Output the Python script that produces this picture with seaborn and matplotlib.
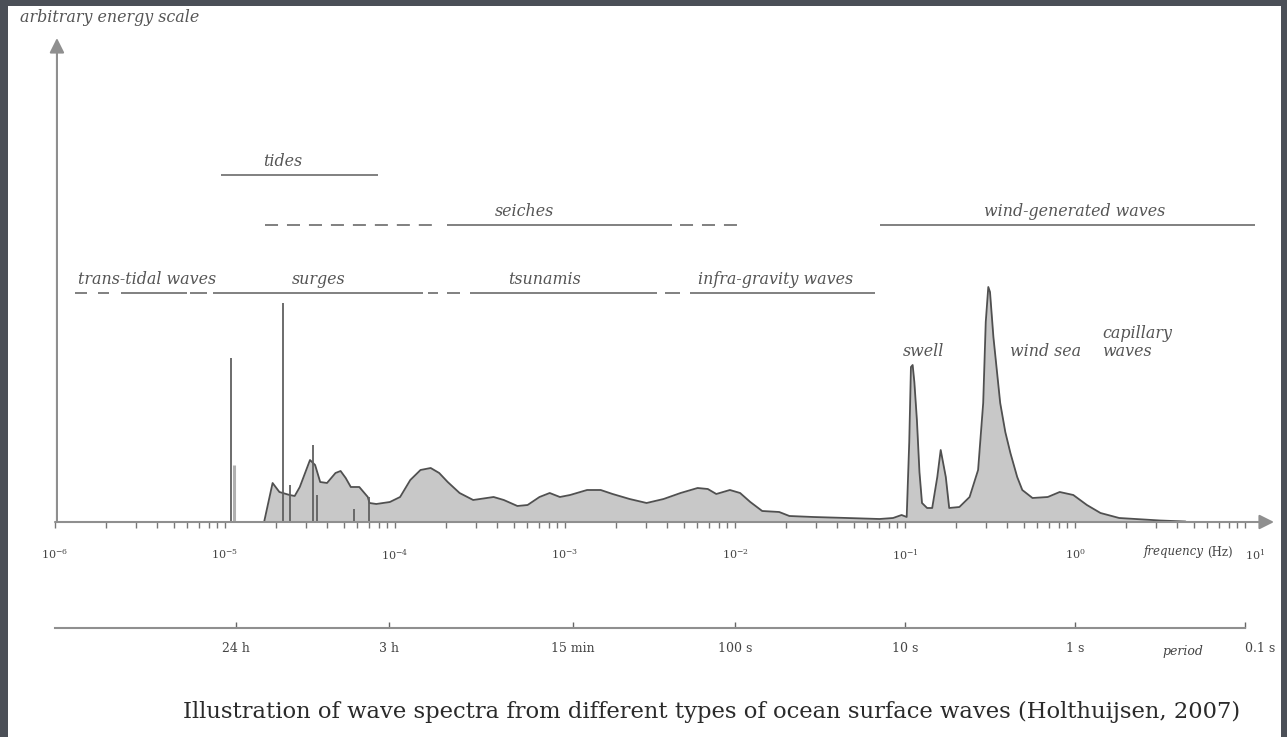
import numpy as np
import pandas as pd
import matplotlib
matplotlib.use("Agg")
import matplotlib.pyplot as plt
import seaborn as sns
from matplotlib.patches import Rectangle
from matplotlib.ticker import LogLocator, NullFormatter

# ---------------- data ----------------
# spectrum outline: log10(frequency in Hz) and arbitrary energy
spec_logf = [-4.77, -4.72, -4.68, -4.62, -4.59, -4.56, -4.50, -4.47, -4.44, -4.40,
             -4.35, -4.32, -4.29, -4.26, -4.21, -4.16, -4.15, -4.11, -4.03, -3.97,
             -3.91, -3.85, -3.79, -3.74, -3.69, -3.62, -3.54, -3.42, -3.36, -3.28,
             -3.22, -3.15, -3.09, -3.03, -2.97, -2.87, -2.79, -2.72, -2.62, -2.52,
             -2.42, -2.32, -2.22, -2.16, -2.11, -2.03, -1.97, -1.91, -1.84, -1.74,
             -1.68, -1.54, -1.34, -1.15, -1.07, -1.02, -0.99, -0.975, -0.965, -0.955,
             -0.945, -0.93, -0.915, -0.90, -0.87, -0.84, -0.81, -0.79, -0.76, -0.74,
             -0.68, -0.62, -0.57, -0.54, -0.525, -0.51, -0.50, -0.48, -0.44, -0.41,
             -0.38, -0.34, -0.31, -0.25, -0.16, -0.09, -0.01, 0.07, 0.15, 0.26,
             0.50, 0.65]
spec_energy = [0, 39, 30, 27, 26, 35, 62, 57, 40, 39,
               49, 51, 44, 35, 35, 25, 19, 18, 20, 25,
               42, 52, 54, 49, 40, 29, 22, 25, 22, 16,
               17, 25, 29, 25, 27, 32, 32, 28, 23, 19,
               23, 29, 34, 33, 28, 32, 29, 20, 11, 10,
               6, 5, 4, 3, 4, 7, 5, 80, 155, 157,
               140, 102, 50, 19, 14, 14, 45, 72, 45, 14,
               15, 25, 52, 119, 200, 235, 230, 185, 119, 90,
               69, 45, 32, 24, 25, 30, 27, 17, 9, 4,
               1.5, 0.5]

# tidal / surge line components
tide_line_logf = [-4.965, -4.66, -4.62, -4.48, -4.46, -4.24, -4.15]
tide_line_energy = [164, 219, 37, 77, 27, 13, 25]
tide_shadow_logf = [-4.947]
tide_shadow_energy = [57]

# frequency axis decades and period axis
freq_tick_exp = [-6, -5, -4, -3, -2, -1, 0, 1]
period_seconds = [86400, 10800, 900, 100, 10, 1, 0.1]
period_labels = ["24 h", "3 h", "15 min", "100 s", "10 s", "1 s", "0.1 s"]

# wave-type bands
band_names = ["trans-tidal waves", "surges", "tsunamis", "infra-gravity waves",
              "seiches", "wind-generated waves", "tides"]
band_row = [0, 0, 0, 0, 1, 1, 2]
band_label_logf = [-5.46, -4.45, -3.12, -1.76, -3.24, 0.0, -4.66]

# band segments (row, log10 f start, log10 f end, dashed?)
seg_row = [0, 0, 0, 0, 0, 0, 0, 0, 0, 0, 1, 1, 1, 1, 2]
seg_lo = [-5.88, -5.75, -5.61, -5.206, -5.071, -3.806, -3.694, -3.559, -2.412, -2.265,
          -4.765, -3.694, -2.324, -1.15, -5.024]
seg_hi = [-5.81, -5.68, -5.224, -5.106, -3.835, -3.747, -3.618, -2.459, -2.324, -1.176,
          -3.735, -2.37, -1.941, 1.06, -4.10]
seg_dashed = [False] * 10 + [True, False, True, False, False]

# peak annotations
peak_names = ["swell", "wind sea"]
peak_logf = [-0.894, -0.176]

# ---------------- style ----------------
sns.set_theme(style="white")
plt.rcParams["font.family"] = ["DejaVu Serif"]
plt.rcParams["mathtext.fontset"] = "dejavuserif"

W, H = 1287, 737
fig = plt.figure(figsize=(W / 100, H / 100), dpi=100)
fig.patch.set_facecolor("#4b4f57")
fig.add_artist(Rectangle((8 / W, 0), (1281 - 8) / W, (H - 6) / H,
                         transform=fig.transFigure, facecolor="white",
                         edgecolor="none", zorder=0))


def fx(x):
    return x / W


def fy(y):
    return 1 - y / H


PX_PER_DEC = 170.0
x0_px, x1_px = 55, 1274
base_px, top_px = 522, 38
xmin = 1e-6
xmax = 10 ** (-6 + (x1_px - x0_px) / PX_PER_DEC)

ax = fig.add_axes([fx(x0_px), fy(base_px), fx(x1_px) - fx(x0_px), fy(top_px) - fy(base_px)])
ax.set_xscale("log")
ax.set_xlim(xmin, xmax)
ax.set_ylim(0, base_px - top_px)
ax.patch.set_alpha(0)
for s in ax.spines.values():
    s.set_visible(False)

df = pd.DataFrame({"freq": 10.0 ** np.array(spec_logf), "energy": spec_energy})
ax.fill_between(df["freq"], 0, df["energy"], color="#c8c8c8", lw=0, zorder=1)
sns.lineplot(data=df, x="freq", y="energy", ax=ax, color="#505050", lw=1.3,
             estimator=None, sort=False, zorder=3)

ax.vlines(10.0 ** np.array(tide_shadow_logf), 0, tide_shadow_energy,
          color="#b0b0b0", lw=2.2, zorder=2)
ax.vlines(10.0 ** np.array(tide_line_logf), 0, tide_line_energy,
          color="#606060", lw=1.3, zorder=4)

# axes arrows
axis_col = "#8f8f8f"
ax.annotate("", xy=(1, 0), xytext=(0, 0), xycoords="axes fraction",
            arrowprops=dict(arrowstyle="-|>", color=axis_col, lw=1.5,
                            mutation_scale=22, shrinkA=0, shrinkB=0), zorder=5)
ax.annotate("", xy=(0.0016, 1), xytext=(0.0016, 0), xycoords="axes fraction",
            arrowprops=dict(arrowstyle="-|>", color=axis_col, lw=1.5,
                            mutation_scale=22, shrinkA=0, shrinkB=0), zorder=5)

# frequency ticks
ax.set_xticks(10.0 ** np.array(freq_tick_exp, dtype=float))
ax.set_xticklabels([r"$10^{%d}$" % e for e in freq_tick_exp])
ax.get_xticklabels()[-1].set_horizontalalignment("left")
ax.xaxis.set_minor_locator(LogLocator(base=10, subs=np.arange(2, 10)))
ax.xaxis.set_minor_formatter(NullFormatter())
ax.tick_params(axis="x", which="both", direction="out", length=4, width=1,
               color="#777777", bottom=True, labelsize=8, labelcolor="#444444", pad=14)
ax.set_yticks([])
ax.set_xlabel("")
ax.set_ylabel("")

# band lines and labels
row_level = {0: base_px - 293, 1: base_px - 225, 2: base_px - 175}
band_col = "#808080"
for r, lo, hi, d in zip(seg_row, seg_lo, seg_hi, seg_dashed):
    ax.plot([10 ** lo, 10 ** hi], [row_level[r]] * 2, color=band_col, lw=1.4,
            ls=(0, (6.7, 4.6)) if d else "-", solid_capstyle="butt",
            dash_capstyle="butt", zorder=3)
for name, r, lf in zip(band_names, band_row, band_label_logf):
    ax.text(10 ** lf, row_level[r] + 5, name, ha="center", va="bottom",
            fontsize=11.4, style="italic", color="#555555")

for name, lf in zip(peak_names, peak_logf):
    ax.text(10 ** lf, base_px - 352, name, ha="center", va="center",
            fontsize=11.4, style="italic", color="#555555")
cap_lf = -6 + (1102 - x0_px) / PX_PER_DEC
ax.text(10 ** cap_lf, base_px - 333, "capillary", ha="left", va="center",
        fontsize=11.4, style="italic", color="#555555")
ax.text(10 ** cap_lf, base_px - 352, "waves", ha="left", va="center",
        fontsize=11.4, style="italic", color="#555555")

# period axis
ax2 = fig.add_axes([fx(x0_px), fy(628), fx(x1_px) - fx(x0_px), 0.01])
ax2.set_xscale("log")
ax2.set_xlim(xmin, xmax)
ax2.patch.set_alpha(0)
for k in ["top", "left", "right"]:
    ax2.spines[k].set_visible(False)
ax2.spines["bottom"].set_color(axis_col)
ax2.spines["bottom"].set_linewidth(1.5)
ax2.spines["bottom"].set_bounds(xmin, 10.0)
ax2.set_xticks(1.0 / np.array(period_seconds, dtype=float))
ax2.set_xticklabels(period_labels)
ax2.get_xticklabels()[-1].set_horizontalalignment("left")
ax2.xaxis.set_minor_locator(plt.NullLocator())
ax2.tick_params(axis="x", which="major", direction="in", length=4, width=1,
                color="#666666", bottom=True, labelsize=9, labelcolor="#444444", pad=10)
ax2.set_yticks([])

# texts
fig.text(fx(1204), fy(552), "frequency", ha="right", va="center", fontsize=8.5,
         style="italic", color="#444444")
fig.text(fx(1207), fy(552), "(Hz)", ha="left", va="center", fontsize=8.5, color="#444444")
fig.text(fx(1183), fy(651), "period", ha="center", va="center", fontsize=9,
         style="italic", color="#444444")
fig.text(fx(20), fy(18), "arbitrary energy scale", ha="left", va="center",
         fontsize=11.4, style="italic", color="#555555")
fig.text(fx(712), fy(712),
         "Illustration of wave spectra from different types of ocean surface waves (Holthuijsen, 2007)",
         ha="center", va="center", fontsize=16.3, color="#2a2a2a")

fig.savefig("out.png", dpi=100, facecolor=fig.get_facecolor())
